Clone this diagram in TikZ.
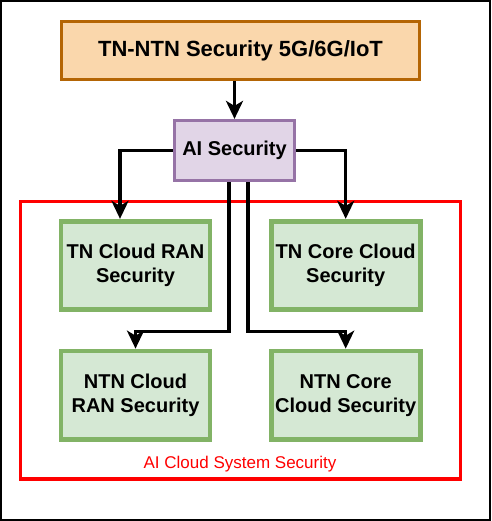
\documentclass[tikz,border=0pt]{standalone}
\usepackage{fontspec}
\setmainfont{Liberation Sans}
\usetikzlibrary{arrows.meta,calc}
\definecolor{orfill}{HTML}{FAD7AC}
\definecolor{orline}{HTML}{B46504}
\definecolor{pufill}{HTML}{E1D5E7}
\definecolor{puline}{HTML}{9673A6}
\definecolor{grfill}{HTML}{D5E8D4}
\definecolor{grline}{HTML}{82B366}
\definecolor{redline}{HTML}{FF0000}
\tikzset{
  topbox/.style={draw=orline, fill=orfill, line width=3.2pt, minimum width=358pt, minimum height=58.5pt, inner sep=0pt,
    font=\fontsize{22}{26}\selectfont\bfseries},
  aibox/.style={draw=puline, fill=pufill, line width=3.2pt, minimum width=120pt, minimum height=60pt, inner sep=0pt,
    font=\fontsize{20}{24}\selectfont\bfseries},
  grbox/.style={draw=grline, fill=grfill, line width=4.8pt, minimum width=149pt, minimum height=88.5pt, inner sep=0pt,
    align=center, font=\fontsize{20}{24}\selectfont\bfseries},
  conn/.style={draw=black, line width=3.4pt, -{Stealth[length=18pt,width=17pt,inset=5pt]}},
  redframe/.style={draw=redline, line width=3.5pt},
  redlabel/.style={text=redline, font=\fontsize{17}{20}\selectfont, inner sep=0pt},
}
\begin{document}
\begin{tikzpicture}[x=1pt,y=-1pt]
\useasboundingbox (0,0) rectangle (491,521);
\draw[line width=2pt] (1,1) rectangle (490,520);
\draw[redframe] (20.7,201.7) rectangle (460.5,479);
\node[redlabel] (lbl) at (240,464) {AI Cloud System Security};
\node[topbox] (top) at (240.5,50.5) {TN-NTN Security 5G/6G/IoT};
\node[aibox] (ai) at (234.5,150.5) {AI Security};
\node[grbox] (tnran) at (135.5,265.5) {TN Cloud RAN\\Security};
\node[grbox] (tncore) at (345.7,265.5) {TN Core Cloud\\Security};
\node[grbox] (ntnran) at (135.5,395.3) {NTN Cloud\\RAN Security};
\node[grbox] (ntncore) at (345.7,395.3) {NTN Core\\Cloud Security};
\draw[conn] (top.south -| ai.north) -- (ai.north);
\draw[conn] (ai.west) -| ([xshift=-15.5pt]tnran.north);
\draw[conn] (ai.east) -| (tncore.north);
\draw[conn] ([xshift=-5.5pt]ai.south) |- ([yshift=17pt]ntnran.north) -- (ntnran.north);
\draw[conn] ([xshift=13.5pt]ai.south) |- ([yshift=17pt]ntncore.north) -- (ntncore.north);
\end{tikzpicture}
\end{document}
